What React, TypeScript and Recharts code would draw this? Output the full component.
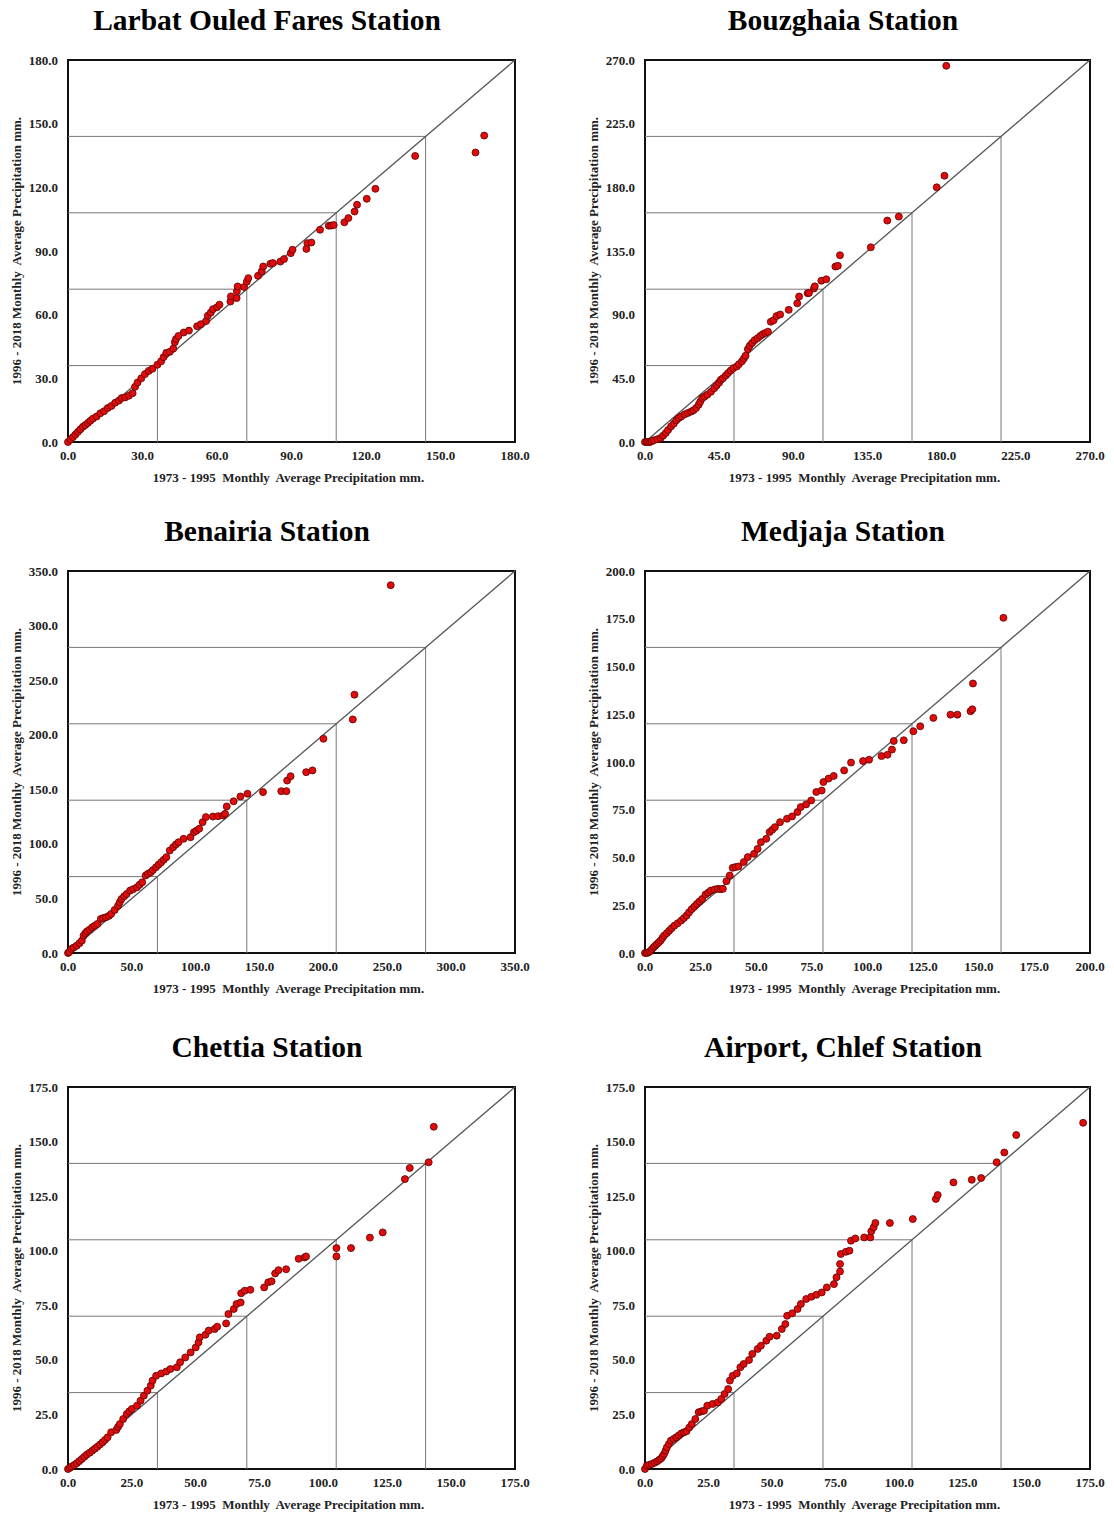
import { ReferenceArea, ReferenceLine, Scatter, ScatterChart, XAxis, YAxis } from 'recharts';

const FONT = '"Liberation Serif", "Times New Roman", serif';
const X_LABEL = '1973 - 1995  Monthly  Average Precipitation mm.';
const Y_LABEL = '1996 - 2018 Monthly  Average Precipitation mm.';

// [1973-1995 value, 1996-2018 value] pairs
const larbatPoints: [number, number][] = [
  [0, 0], [1, 1.2], [2, 2.3], [3, 3.5], [4, 4.8], [5, 6], [6, 7.2], [7, 8], [8, 9], [9, 10], [10, 11],
  [11.5, 12], [13, 13.5], [14.5, 14.5], [16, 16], [17.5, 17], [19, 18.5], [20.5, 19.5], [21.6, 20.7],
  [23, 21], [24.5, 21.8], [26, 23], [27, 26], [28, 28], [29.5, 30], [31, 32], [32.5, 33.5], [34, 34.5],
  [36, 36.4], [37.5, 38], [38.5, 40], [39.6, 42], [41, 42.5], [42.4, 44], [43, 47], [43.5, 48.5],
  [44.5, 50], [46.6, 51.6], [48.7, 52.5], [52, 54.5], [53.5, 55.5], [55.6, 57], [56.3, 59.5], [57.5, 61],
  [58.4, 62.6], [60, 63.5], [61, 64.7], [65.4, 66.2], [65.6, 68.6], [67.9, 67.8], [68, 71], [68.3, 73.3],
  [70.9, 73], [72, 75.5], [72.6, 77.2], [76.5, 78.3], [78, 80.4], [78.6, 82.7], [81.5, 84], [82.5, 84.3],
  [85.5, 85], [87, 86.2], [89.7, 89], [90.4, 90.6], [96, 91], [96.4, 93.7], [98, 94], [101.5, 100],
  [105, 101.9], [106, 102], [107, 102.2], [111.3, 103.5], [112.9, 105.5], [115.4, 108.6], [116.4, 111.8],
  [120.3, 114.6], [123.8, 119.3], [139.8, 134.8], [164.1, 136.4], [167.6, 144.4],
];

const bouzghaiaPoints: [number, number][] = [
  [0, 0], [1, 0], [2, 0], [3, 0], [4, 0.5], [5.3, 1.2], [7.5, 2], [9.5, 2.8], [11, 4.5], [12.6, 6.4],
  [14, 8.5], [15.8, 11], [17.5, 13], [19, 15.3], [20.5, 17], [22, 18], [24, 19.5], [26, 20.5], [28, 21.5],
  [29.4, 22.4], [31, 24], [32.6, 26.4], [33.5, 28.5], [34.7, 31], [36, 32], [37.8, 33.4], [40, 35.5],
  [42, 38], [43.5, 40], [45, 42], [46, 44], [47.3, 45], [49, 47], [50.4, 48.7], [52, 50.5], [53.6, 52.2],
  [55.7, 53.4], [57, 55], [58.8, 57], [60, 59], [61, 61], [62.4, 65.6], [63.5, 68], [65, 70], [66.5, 72],
  [68.3, 73.4], [70, 75], [71.4, 76.2], [73, 77], [74.6, 78], [76.3, 85], [78, 86], [79.8, 89], [82, 90.1],
  [87.2, 93.4], [92.4, 98], [93.5, 102.8], [98.7, 105.2], [99.5, 105.4], [102.5, 108.5], [103, 110],
  [107, 114], [110, 115], [115.5, 124], [117, 124.5], [118.3, 132], [137, 137.6], [147, 156.5],
  [154, 159.3], [177, 180], [181.7, 188.2], [182.8, 265.9],
];

const benairiaPoints: [number, number][] = [
  [0, 0], [1, 1], [2.7, 3.7], [4.5, 5], [6.8, 6.7], [9, 9], [10.8, 11.3], [12.2, 15.9], [13.5, 18],
  [14.9, 19.9], [17, 21.5], [18.9, 23.5], [21, 25], [23, 26.6], [25.7, 31.2], [27.5, 32], [29.7, 32.7],
  [32, 34], [33.8, 35.8], [36.5, 39.4], [39.2, 43.4], [40.5, 46.5], [41.9, 49.5], [44, 52], [45.9, 54],
  [48.6, 57.2], [51, 58.5], [54, 60.2], [56, 62.5], [58.1, 64.8], [60.8, 71], [62.5, 72.5], [64.9, 74],
  [66.5, 76], [68.9, 78.6], [71, 81], [73, 83.2], [75, 85.5], [77, 87.8], [79.7, 93.9], [82.4, 97],
  [84.5, 99.5], [86.5, 101.5], [90.5, 104.6], [95.9, 106.1], [98.6, 110.7], [100.5, 112], [102.7, 113.8],
  [105.4, 119.9], [108, 124.5], [113.5, 125], [117.6, 125.4], [121.6, 126], [123, 127.5], [124.3, 134.3],
  [129.7, 139], [135, 143.4], [140.5, 145.9], [152.7, 147.4], [167, 148.3], [171, 148.3], [171.6, 158],
  [174.3, 162], [186.5, 165.7], [191.4, 167.3], [200, 196.3], [223, 214], [224.3, 236.7], [252.7, 337],
];

const medjajaPoints: [number, number][] = [
  [0, 0], [0.8, 0], [1.5, 0.3], [2.3, 0.9], [3.1, 2], [3.9, 3], [4.6, 3.8], [5.4, 4.7], [6.2, 5.6],
  [7, 6.5], [7.8, 7.8], [8.6, 9.1], [9.8, 10.4], [10.9, 11.7], [12, 13], [13.2, 14.3], [14.7, 15.6],
  [16.3, 17], [17.5, 18.3], [18.7, 19.6], [19.8, 21.3], [21, 23], [22.2, 24.3], [23.3, 25.7], [24.5, 27],
  [25.7, 28.3], [27.2, 30.6], [28.4, 31.6], [29.6, 32.7], [31.2, 33.2], [32.7, 33.6], [34, 33.4],
  [35, 33.6], [36.6, 37.6], [38.1, 40.6], [39.4, 44.6], [40.7, 45], [42, 45.3], [44.4, 47.6], [46.2, 50.2],
  [49, 51.9], [50.6, 54.5], [52.1, 58], [54.5, 59.8], [56, 63.3], [57.2, 64.5], [58.4, 65.9], [60.7, 68.5],
  [63.8, 70.3], [66.1, 71.5], [68.5, 73.8], [70, 76.4], [72.4, 77.8], [74.7, 79.9], [77, 84.3],
  [79.4, 85.1], [80.2, 89.5], [82.5, 91.3], [84.8, 92.7], [89.5, 95.6], [92.6, 99.7], [98, 100.5],
  [100.7, 101.2], [106.3, 103.1], [109, 103.8], [111, 106.5], [111.8, 111], [116.3, 111.4], [120.6, 116.1],
  [123.7, 118.7], [129.6, 123.1], [137.3, 124.8], [140.4, 124.8], [146.3, 126.6], [147.1, 127.6],
  [147.4, 141.1], [161.1, 175.5],
];

const chettiaPoints: [number, number][] = [
  [0, 0], [0.7, 0.5], [1.4, 1.1], [2.4, 1.8], [3.4, 2.6], [4.4, 3.6], [5.4, 4.6], [6.4, 5.6], [7.4, 6.6],
  [8.5, 7.5], [9.5, 8.4], [10.5, 9.3], [11.5, 10.2], [12.5, 11.2], [13.5, 12.2], [14.5, 13.3], [15.5, 14.5],
  [16.9, 16.8], [18.9, 17.9], [19.6, 19.3], [20.3, 20.6], [21.6, 22.9], [23, 25.2], [24, 26.4], [25, 27.5],
  [27, 29], [28.4, 31.3], [29.7, 33.6], [31.1, 35.9], [32.4, 38.2], [33.1, 40.5], [34.5, 42.7],
  [36.5, 43.8], [38.5, 44.7], [40.1, 45.8], [42.6, 46.6], [43.9, 48.9], [45.9, 51.1], [48, 53.4],
  [50, 55.7], [51.1, 58], [51.6, 60.3], [53.8, 61.5], [55.1, 63.4], [57.4, 64.1], [58.4, 65.2],
  [61.9, 66.7], [62.8, 71], [64.9, 73.3], [66, 75.6], [67.6, 76.3], [67.8, 80.5], [69.2, 81.7],
  [71.4, 82.1], [76.8, 83.2], [78.4, 85.5], [79.7, 86], [81.1, 89.6], [82.4, 91.1], [85.4, 91.5],
  [90.3, 96.3], [92.6, 96.9], [93.2, 97.4], [105.1, 97.4], [105.1, 101.2], [110.8, 101.2], [118.2, 106],
  [123.2, 108.4], [131.9, 132.8], [133.8, 137.9], [141.2, 140.5], [143.2, 156.8],
];

const airportPoints: [number, number][] = [
  [0, 0], [0.7, 1.5], [1.7, 1.9], [2.7, 2.3], [3.8, 2.9], [4.8, 3.5], [5.6, 4.2], [6.4, 4.9], [7, 5.9],
  [7.5, 6.9], [8.1, 8.4], [8.6, 9.9], [9.4, 11.5], [10.2, 13], [11.3, 13.8], [12.3, 14.5], [13.3, 15.4],
  [14.3, 16.3], [15.3, 16.8], [16.3, 17.3], [17.4, 19], [18.4, 20.6], [19.8, 22.9], [21.1, 26],
  [22.2, 26.4], [23.2, 26.7], [24.5, 29], [26.6, 29.8], [28.6, 30.5], [30, 32.1], [31.3, 34.4],
  [32.7, 36.6], [33.4, 40.5], [34.5, 42.7], [36.1, 43.8], [37.5, 46.6], [38.8, 48.1], [40.9, 49.9],
  [42.2, 52.7], [44.3, 55], [45.6, 56.5], [47.7, 58.8], [49, 60.6], [51.8, 61.1], [53.8, 64.1],
  [55.2, 66.4], [55.9, 70.2], [57.9, 71.3], [60, 73.3], [61.3, 75.6], [63.4, 77.9], [65.4, 78.9],
  [67.4, 79.8], [69.5, 80.9], [71.5, 83.2], [74.3, 84.7], [75.3, 87.8], [76.7, 90.5], [76.7, 93.9],
  [77, 98.5], [79, 99.5], [80.4, 100], [81, 104.6], [82.7, 105.6], [86.2, 106.1], [88.6, 106.1],
  [89, 108.9], [89.9, 110.7], [90.6, 112.7], [96.3, 112.7], [105.3, 114.5], [114.4, 123.7],
  [115.1, 125.5], [121.3, 131.3], [128.5, 132.5], [132.2, 133.3], [138.3, 140.5], [141.3, 145],
  [146, 153], [172.3, 158.6],
];

const larbatTicks = [0, 30, 60, 90, 120, 150, 180];
const bouzghaiaTicks = [0, 45, 90, 135, 180, 225, 270];
const benairiaTicks = [0, 50, 100, 150, 200, 250, 300, 350];
const medjajaTicks = [0, 25, 50, 75, 100, 125, 150, 175, 200];
const chettiaTicks = [0, 25, 50, 75, 100, 125, 150, 175];
const airportTicks = [0, 25, 50, 75, 100, 125, 150, 175];

// guide lines drawn from each axis to the 1:1 line
const larbatRefs = [36, 72, 108, 144];
const bouzghaiaRefs = [54, 108, 162, 216];
const benairiaRefs = [70, 140, 210, 280];
const medjajaRefs = [40, 80, 120, 160];
const chettiaRefs = [35, 70, 105, 140];
const airportRefs = [35, 70, 105, 140];

interface PanelProps {
  title: string;
  points: [number, number][];
  ticks: number[];
  refs: number[];
  col: 0 | 1;
  plotTop: number;
}

const tickStyle = { fill: '#222', fontSize: 13, fontWeight: 700, fontFamily: FONT };
const fmt = (v: number) => v.toFixed(1);

function Dot(props: any) {
  const { cx, cy } = props;
  if (cx == null || cy == null) return null;
  return <circle cx={cx} cy={cy} r={3.5} fill="#e00c0c" stroke="#5a0000" strokeWidth={0.8} />;
}

function QQPanel({ title, points, ticks, refs, col, plotTop }: PanelProps) {
  const max = ticks[ticks.length - 1];
  const data = points.map(([x, y]) => ({ x, y }));
  const plotLeft = col === 0 ? 68 : 645;
  const plotW = col === 0 ? 447 : 445;
  const plotH = 382;
  const titleX = col === 0 ? 267 : 843;

  return (
    <>
      <div
        style={{
          position: 'absolute', left: titleX - 250, top: plotTop - 56, width: 500, textAlign: 'center',
          fontFamily: FONT, fontWeight: 700, fontSize: 29.5, lineHeight: '32px', color: '#000',
        }}
      >
        {title}
      </div>
      <div style={{ position: 'absolute', left: plotLeft - 68, top: plotTop - 10 }}>
        <ScatterChart
          width={68 + plotW + 15}
          height={10 + plotH + 30}
          margin={{ top: 10, right: 15, left: 8, bottom: 0 }}
          style={{ overflow: 'visible' }}
        >
          <XAxis
            type="number" dataKey="x" domain={[0, max]} ticks={ticks} interval={0} tickFormatter={fmt}
            axisLine={false} tickLine={false} tickSize={0} tickMargin={9} height={30} tick={tickStyle}
          />
          <YAxis
            type="number" dataKey="y" domain={[0, max]} ticks={ticks} interval={0} tickFormatter={fmt}
            axisLine={false} tickLine={false} tickSize={0} tickMargin={10} width={60} tick={tickStyle}
          />
          {refs.map((v) => (
            <ReferenceLine key={'h' + v} segment={[{ x: 0, y: v }, { x: v, y: v }]} stroke="#777" strokeWidth={1} />
          ))}
          {refs.map((v) => (
            <ReferenceLine key={'v' + v} segment={[{ x: v, y: 0 }, { x: v, y: v }]} stroke="#777" strokeWidth={1} />
          ))}
          <ReferenceLine segment={[{ x: 0, y: 0 }, { x: max, y: max }]} stroke="#555" strokeWidth={1.3} />
          <ReferenceArea x1={0} x2={max} y1={0} y2={max} fill="none" stroke="#111" strokeWidth={2} />
          <Scatter data={data} shape={<Dot />} isAnimationActive={false} />
        </ScatterChart>
      </div>
      <div
        style={{
          position: 'absolute', left: plotLeft + plotW / 2 - 3 - 200, top: plotTop + plotH + 28, width: 400,
          textAlign: 'center', fontFamily: FONT, fontWeight: 700, fontSize: 13, lineHeight: '16px',
          color: '#222', whiteSpace: 'pre',
        }}
      >
        {X_LABEL}
      </div>
      <div
        style={{
          position: 'absolute', left: plotLeft - 51 - 200, top: plotTop + plotH / 2 - 8, width: 400,
          textAlign: 'center', fontFamily: FONT, fontWeight: 700, fontSize: 13, lineHeight: '16px',
          color: '#222', whiteSpace: 'pre', transform: 'rotate(-90deg)',
        }}
      >
        {Y_LABEL}
      </div>
    </>
  );
}

export default function App() {
  return (
    <div style={{ position: 'absolute', left: 0, top: 0, width: 1114, height: 1518, background: '#fff' }}>
      <QQPanel title="Larbat Ouled Fares Station" points={larbatPoints} ticks={larbatTicks} refs={larbatRefs} col={0} plotTop={60} />
      <QQPanel title="Bouzghaia Station" points={bouzghaiaPoints} ticks={bouzghaiaTicks} refs={bouzghaiaRefs} col={1} plotTop={60} />
      <QQPanel title="Benairia Station" points={benairiaPoints} ticks={benairiaTicks} refs={benairiaRefs} col={0} plotTop={571} />
      <QQPanel title="Medjaja Station" points={medjajaPoints} ticks={medjajaTicks} refs={medjajaRefs} col={1} plotTop={571} />
      <QQPanel title="Chettia Station" points={chettiaPoints} ticks={chettiaTicks} refs={chettiaRefs} col={0} plotTop={1087} />
      <QQPanel title="Airport, Chlef Station" points={airportPoints} ticks={airportTicks} refs={airportRefs} col={1} plotTop={1087} />
    </div>
  );
}
